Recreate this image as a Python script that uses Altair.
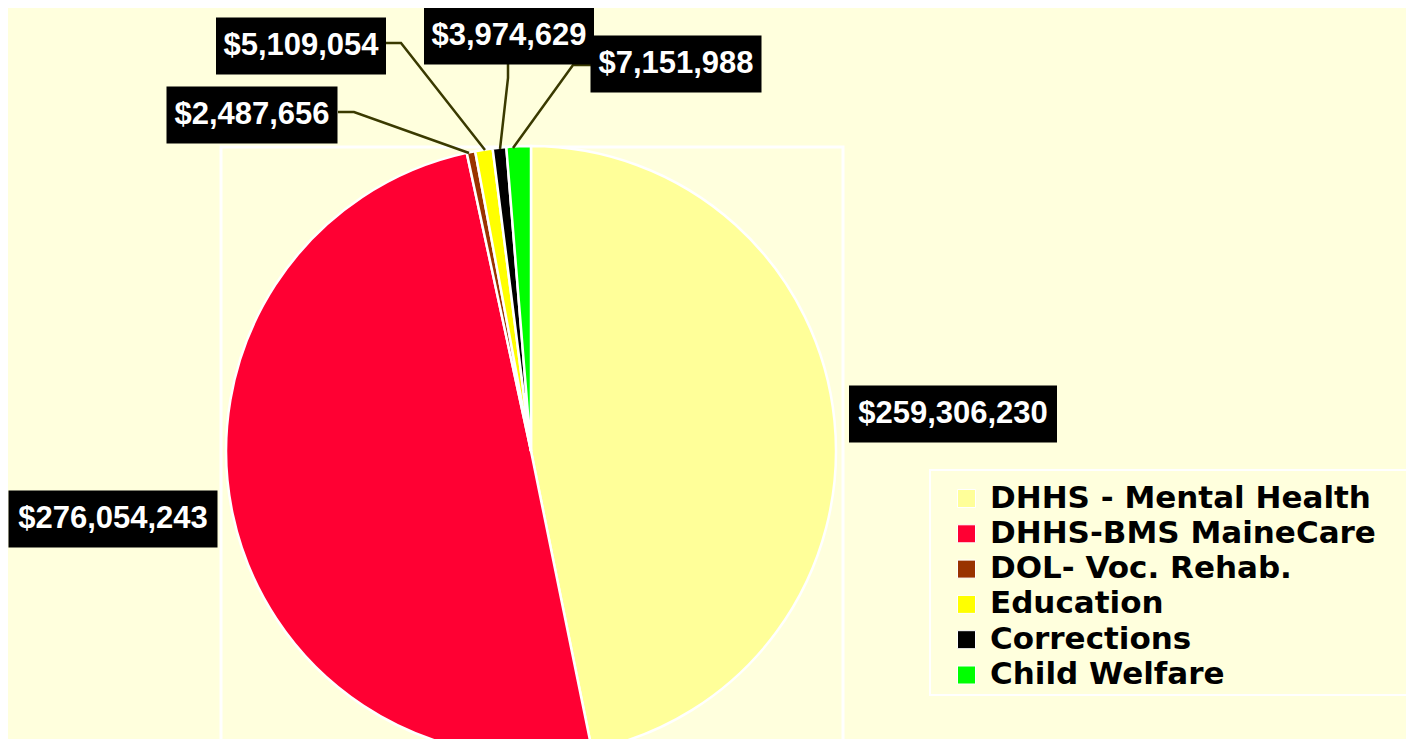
import altair as alt
import pandas as pd

# ---- data ----
categories = ["DHHS - Mental Health", "DHHS-BMS MaineCare", "DOL- Voc. Rehab.",
              "Education", "Corrections", "Child Welfare"]
values = [259306230, 276054243, 2487656, 5109054, 3974629, 7151988]
colors = ["#FFFF99", "#FF0033", "#993300", "#FFFF00", "#000000", "#00FF00"]
labels = ["${:,}".format(v) for v in values]

# ---- layout (pixel positions of the callout labels) ----
label_cx = [945, 105, 244, 293, 501, 668]
label_cy = [406, 511, 107, 38, 28, 56]
box_w = [208, 209, 171, 170, 170, 171]
box_h = 57

# leader lines: (x, y) points per callout, for the four small slices
leader_pts = {
    "DOL- Voc. Rehab.": [(330, 104), (346, 104), (461, 145)],
    "Education": [(378, 35), (393, 35), (477, 142)],
    "Corrections": [(500, 56), (500, 70), (492, 141)],
    "Child Welfare": [(583, 57), (565, 57), (505, 140)],
}

BG = "#FFFFDD"
W, H = 1398, 731
CX, CY, R = 523, 443, 305

df = pd.DataFrame({"category": categories, "value": values,
                   "order": list(range(len(categories))), "label": labels})

lab = pd.DataFrame({"label": labels, "cx": label_cx, "cy": label_cy})
lab["x0"] = [c - w / 2 for c, w in zip(label_cx, box_w)]
lab["x1"] = [c + w / 2 for c, w in zip(label_cx, box_w)]
lab["y0"] = [c - box_h / 2 for c in label_cy]
lab["y1"] = [c + box_h / 2 for c in label_cy]

rows = []
for k, pts in leader_pts.items():
    for i, (x, y) in enumerate(pts):
        rows.append({"cat": k, "i": i, "x": x, "y": y})
lead = pd.DataFrame(rows)

frame = alt.Chart(pd.DataFrame({"a": [0]})).mark_rect(
    filled=False, stroke="white", strokeWidth=3
).encode(x=alt.value(213), x2=alt.value(835), y=alt.value(139), y2=alt.value(820))

legend_frame = alt.Chart(pd.DataFrame({"a": [0]})).mark_rect(
    filled=False, stroke="white", strokeWidth=2
).encode(x=alt.value(922), x2=alt.value(1404), y=alt.value(462), y2=alt.value(687))

pie = alt.Chart(df).mark_arc(outerRadius=R, stroke="white", strokeWidth=2.5).encode(
    theta=alt.Theta("value:Q", stack=True),
    color=alt.Color(
        "category:N",
        sort=categories,
        scale=alt.Scale(domain=categories, range=colors),
        legend=alt.Legend(
            orient="none", legendX=930, legendY=475, title=None,
            labelFont="DejaVu Sans", labelFontSize=31, labelFontWeight="bold",
            labelColor="black", symbolType="square", symbolSize=324,
            symbolStrokeColor="white", symbolStrokeWidth=1,
            symbolOffset=13, labelOffset=8, rowPadding=3.3, padding=0,
            labelLimit=600,
        ),
    ),
    order=alt.Order("order:Q"),
    x=alt.value(CX),
    y=alt.value(CY),
)

lines = alt.Chart(lead).mark_line(color="#3A3A00", strokeWidth=2.5).encode(
    x=alt.X("x:Q", scale=None, axis=None),
    y=alt.Y("y:Q", scale=None, axis=None),
    detail="cat:N",
    order="i:Q",
)

boxes = alt.Chart(lab).mark_rect(color="black").encode(
    x=alt.X("x0:Q", scale=None, axis=None), x2="x1:Q",
    y=alt.Y("y0:Q", scale=None, axis=None), y2="y1:Q",
)

texts = alt.Chart(lab).mark_text(
    font="Liberation Sans", fontWeight="bold", fontSize=31, color="white",
    align="center", baseline="middle",
).encode(
    x=alt.X("cx:Q", scale=None, axis=None),
    y=alt.Y("cy:Q", scale=None, axis=None),
    text="label:N",
)

chart = alt.layer(frame, legend_frame, pie, lines, boxes, texts).properties(
    width=W, height=H, background=BG, padding=0,
    autosize=alt.AutoSizeParams(type="none"),
).configure_view(stroke=None)

chart.save("out.html", embed_options={"renderer": "svg", "actions": False})
